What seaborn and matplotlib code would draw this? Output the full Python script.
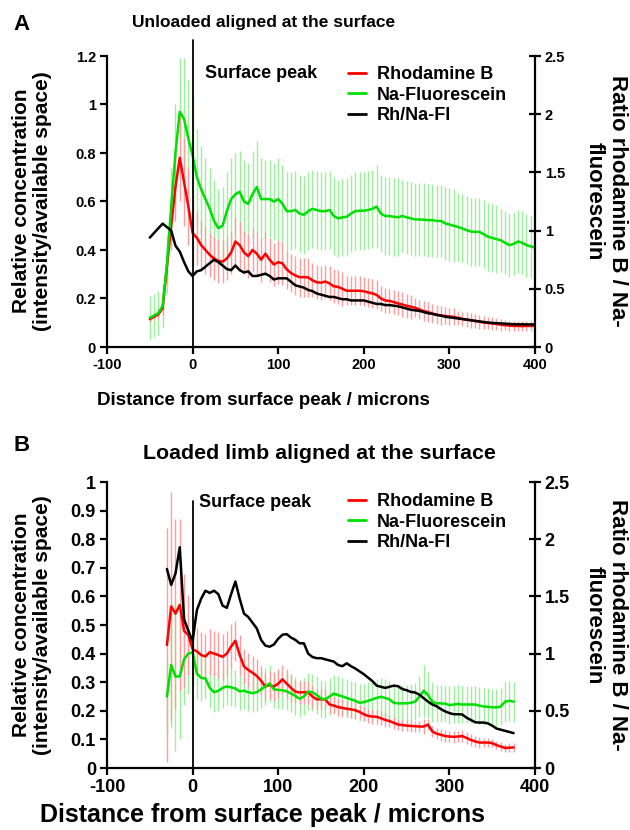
import numpy as np
import pandas as pd
import matplotlib
matplotlib.use("Agg")
import matplotlib.pyplot as plt
import seaborn as sns
from matplotlib.lines import Line2D

# ---------------- data ----------------
# Panel A: distance from surface peak (microns), 5-micron steps
dist_A = np.arange(-50, 401, 5)
green_A = [0.12, 0.13, 0.14, 0.17, 0.34, 0.58, 0.80, 0.97, 0.94, 0.86,
           0.79, 0.70, 0.65, 0.61, 0.57, 0.52, 0.49, 0.50, 0.56, 0.61,
           0.63, 0.64, 0.60, 0.59, 0.63, 0.66, 0.61, 0.61, 0.61, 0.60,
           0.61, 0.59, 0.56, 0.56, 0.565, 0.55, 0.545, 0.56, 0.57, 0.565,
           0.56, 0.56, 0.565, 0.54, 0.53, 0.535, 0.537, 0.55, 0.56, 0.562,
           0.562, 0.565, 0.57, 0.579, 0.55, 0.54, 0.54, 0.537, 0.535, 0.54,
           0.535, 0.53, 0.526, 0.526, 0.525, 0.523, 0.523, 0.52, 0.52, 0.51,
           0.505, 0.50, 0.495, 0.489, 0.482, 0.476, 0.475, 0.475, 0.465, 0.455,
           0.45, 0.445, 0.44, 0.43, 0.42, 0.425, 0.435, 0.43, 0.42, 0.415,
           0.41]
green_err_A = [0.09, 0.09, 0.09, 0.09, 0.12, 0.16, 0.20, 0.22, 0.25, 0.24,
               0.23, 0.20, 0.18, 0.17, 0.17, 0.17, 0.16, 0.16, 0.16, 0.17,
               0.17, 0.17, 0.17, 0.17, 0.18, 0.19, 0.17, 0.16, 0.16, 0.16,
               0.17, 0.16, 0.16, 0.16, 0.16, 0.16, 0.16, 0.16, 0.16, 0.16,
               0.16, 0.16, 0.16, 0.16, 0.16, 0.16, 0.16, 0.16, 0.16, 0.16,
               0.16, 0.16, 0.16, 0.17, 0.16, 0.16, 0.16, 0.16, 0.16, 0.15,
               0.15, 0.15, 0.15, 0.15, 0.15, 0.15, 0.15, 0.15, 0.15, 0.15,
               0.15, 0.15, 0.14, 0.14, 0.14, 0.14, 0.14, 0.14, 0.14, 0.14,
               0.14, 0.14, 0.13, 0.13, 0.13, 0.13, 0.13, 0.13, 0.13, 0.13,
               0.13]
red_A = [0.115, 0.125, 0.135, 0.16, 0.33, 0.50, 0.66, 0.78, 0.68, 0.58,
         0.47, 0.45, 0.42, 0.40, 0.38, 0.365, 0.355, 0.352, 0.365, 0.39,
         0.435, 0.42, 0.39, 0.375, 0.40, 0.385, 0.36, 0.385, 0.36, 0.34,
         0.35, 0.345, 0.32, 0.305, 0.295, 0.288, 0.288, 0.287, 0.275, 0.267,
         0.265, 0.27, 0.262, 0.25, 0.248, 0.24, 0.232, 0.232, 0.232, 0.232,
         0.23, 0.225, 0.221, 0.215, 0.20, 0.192, 0.19, 0.185, 0.18, 0.175,
         0.17, 0.166, 0.162, 0.155, 0.148, 0.144, 0.138, 0.134, 0.13, 0.128,
         0.126, 0.124, 0.12, 0.116, 0.113, 0.11, 0.107, 0.104, 0.101, 0.099,
         0.097, 0.095, 0.092, 0.09, 0.088, 0.087, 0.087, 0.086, 0.087, 0.087,
         0.087]
red_err_A = [0.01, 0.01, 0.02, 0.03, 0.06, 0.10, 0.14, 0.18, 0.18, 0.16,
             0.13, 0.11, 0.10, 0.10, 0.09, 0.09, 0.09, 0.09, 0.09, 0.09,
             0.10, 0.10, 0.09, 0.09, 0.09, 0.09, 0.09, 0.09, 0.09, 0.09,
             0.09, 0.09, 0.08, 0.08, 0.08, 0.08, 0.08, 0.08, 0.07, 0.07,
             0.07, 0.07, 0.07, 0.07, 0.07, 0.07, 0.06, 0.06, 0.06, 0.06,
             0.06, 0.06, 0.06, 0.06, 0.05, 0.05, 0.05, 0.05, 0.05, 0.05,
             0.05, 0.05, 0.04, 0.04, 0.04, 0.04, 0.04, 0.04, 0.04, 0.035,
             0.035, 0.035, 0.03, 0.03, 0.03, 0.03, 0.03, 0.03, 0.025, 0.025,
             0.025, 0.025, 0.025, 0.02, 0.02, 0.02, 0.02, 0.02, 0.02, 0.02,
             0.02]
ratio_A = [0.94, 0.98, 1.02, 1.06, 1.03, 1.00, 0.87, 0.82, 0.73, 0.65,
           0.61, 0.65, 0.66, 0.69, 0.72, 0.75, 0.73, 0.70, 0.67, 0.66,
           0.70, 0.66, 0.64, 0.65, 0.61, 0.61, 0.62, 0.63, 0.61, 0.58,
           0.59, 0.59, 0.59, 0.56, 0.53, 0.52, 0.51, 0.49, 0.48, 0.46,
           0.45, 0.44, 0.43, 0.43, 0.42, 0.41, 0.41, 0.40, 0.40, 0.40,
           0.40, 0.39, 0.38, 0.37, 0.37, 0.36, 0.36, 0.355, 0.35, 0.34,
           0.33, 0.32, 0.315, 0.31, 0.30, 0.29, 0.285, 0.275, 0.27, 0.26,
           0.255, 0.25, 0.245, 0.24, 0.235, 0.23, 0.225, 0.22, 0.215, 0.21,
           0.207, 0.205, 0.203, 0.20, 0.198, 0.196, 0.195, 0.195, 0.194, 0.194,
           0.194]

# Panel B
dist_B = np.arange(-30, 376, 5)
ratio_B = [1.74, 1.60, 1.70, 1.93, 1.30, 1.20, 1.11, 1.38, 1.48, 1.55,
           1.53, 1.55, 1.52, 1.42, 1.40, 1.52, 1.63, 1.48, 1.35, 1.32,
           1.27, 1.22, 1.12, 1.07, 1.06, 1.08, 1.13, 1.165, 1.17, 1.14,
           1.12, 1.09, 1.09, 1.00, 0.97, 0.96, 0.96, 0.95, 0.94, 0.93,
           0.90, 0.89, 0.915, 0.89, 0.87, 0.845, 0.82, 0.79, 0.76, 0.72,
           0.71, 0.70, 0.71, 0.72, 0.715, 0.69, 0.68, 0.665, 0.66, 0.64,
           0.61, 0.58, 0.555, 0.54, 0.515, 0.495, 0.48, 0.47, 0.47, 0.468,
           0.44, 0.42, 0.40, 0.397, 0.397, 0.39, 0.37, 0.345, 0.335, 0.325,
           0.315, 0.305]
red_B = [0.43, 0.565, 0.54, 0.57, 0.48, 0.465, 0.415, 0.408, 0.395, 0.39,
         0.405, 0.40, 0.395, 0.389, 0.40, 0.425, 0.445, 0.395, 0.355, 0.343,
         0.333, 0.322, 0.305, 0.285, 0.29, 0.285, 0.295, 0.31, 0.295, 0.28,
         0.267, 0.264, 0.265, 0.265, 0.25, 0.24, 0.24, 0.24, 0.222, 0.218,
         0.213, 0.21, 0.207, 0.205, 0.202, 0.196, 0.188, 0.182, 0.18, 0.179,
         0.174, 0.168, 0.164, 0.158, 0.152, 0.15, 0.148, 0.147, 0.146, 0.145,
         0.145, 0.152, 0.128, 0.12, 0.116, 0.112, 0.11, 0.109, 0.11, 0.112,
         0.105, 0.098, 0.093, 0.089, 0.089, 0.089, 0.087, 0.08, 0.075, 0.07,
         0.071, 0.072]
red_err_B = [0.41, 0.40, 0.33, 0.30, 0.20, 0.14, 0.10, 0.08, 0.08, 0.08,
             0.08, 0.08, 0.08, 0.08, 0.08, 0.08, 0.07, 0.07, 0.06, 0.06,
             0.06, 0.06, 0.05, 0.05, 0.05, 0.05, 0.05, 0.05, 0.05, 0.05,
             0.04, 0.04, 0.04, 0.04, 0.04, 0.035, 0.035, 0.035, 0.03, 0.03,
             0.03, 0.03, 0.03, 0.03, 0.03, 0.025, 0.025, 0.025, 0.025, 0.025,
             0.025, 0.025, 0.02, 0.02, 0.02, 0.02, 0.02, 0.02, 0.02, 0.02,
             0.025, 0.02, 0.02, 0.02, 0.02, 0.02, 0.02, 0.02, 0.02, 0.02,
             0.02, 0.02, 0.02, 0.02, 0.015, 0.015, 0.015, 0.015, 0.015, 0.015,
             0.015, 0.015]
green_B = [0.25, 0.36, 0.32, 0.32, 0.38, 0.40, 0.405, 0.33, 0.315, 0.313,
           0.28, 0.265, 0.27, 0.28, 0.285, 0.282, 0.278, 0.268, 0.27, 0.265,
           0.262, 0.265, 0.275, 0.285, 0.296, 0.275, 0.273, 0.272, 0.268, 0.261,
           0.252, 0.242, 0.25, 0.267, 0.265, 0.255, 0.243, 0.24, 0.25, 0.26,
           0.255, 0.25, 0.245, 0.24, 0.235, 0.228, 0.23, 0.235, 0.24, 0.245,
           0.249, 0.245, 0.24, 0.228, 0.226, 0.226, 0.226, 0.228, 0.232, 0.25,
           0.27, 0.255, 0.232, 0.226, 0.226, 0.225, 0.22, 0.222, 0.224, 0.222,
           0.222, 0.222, 0.222, 0.218, 0.215, 0.214, 0.212, 0.212, 0.215, 0.232,
           0.235, 0.232]
green_err_B = [0.13, 0.22, 0.26, 0.22, 0.16, 0.14, 0.12, 0.09, 0.08, 0.07,
               0.07, 0.07, 0.07, 0.07, 0.065, 0.065, 0.065, 0.065, 0.065, 0.065,
               0.065, 0.065, 0.065, 0.065, 0.065, 0.065, 0.065, 0.065, 0.065, 0.065,
               0.065, 0.065, 0.065, 0.065, 0.065, 0.065, 0.065, 0.065, 0.065, 0.065,
               0.065, 0.065, 0.065, 0.065, 0.065, 0.065, 0.065, 0.065, 0.065, 0.065,
               0.065, 0.065, 0.065, 0.065, 0.065, 0.065, 0.065, 0.065, 0.065, 0.07,
               0.09, 0.08, 0.07, 0.065, 0.065, 0.065, 0.065, 0.065, 0.065, 0.065,
               0.065, 0.065, 0.065, 0.065, 0.065, 0.065, 0.065, 0.065, 0.065, 0.07,
               0.07, 0.07]

series_names = ["Rhodamine B", "Na-Fluorescein", "Rh/Na-Fl"]
xticks = [-100, 0, 100, 200, 300, 400]
yticks_A = [0, 0.2, 0.4, 0.6, 0.8, 1.0, 1.2]
yticklabels_A = ["0", "0.2", "0.4", "0.6", "0.8", "1", "1.2"]
yticks_B = [0, 0.1, 0.2, 0.3, 0.4, 0.5, 0.6, 0.7, 0.8, 0.9, 1.0]
yticklabels_B = ["0", "0.1", "0.2", "0.3", "0.4", "0.5", "0.6", "0.7", "0.8", "0.9", "1"]
rticks = [0, 0.5, 1.0, 1.5, 2.0, 2.5]
rticklabels = ["0", "0.5", "1", "1.5", "2", "2.5"]

# ---------------- style ----------------
sns.set_style("ticks")
plt.rcParams['font.family'] = ['Liberation Sans', 'DejaVu Sans']
plt.rcParams['font.weight'] = 'bold'
for key in ("text.color", "axes.labelcolor", "xtick.color", "ytick.color", "axes.edgecolor"):
    plt.rcParams[key] = "black"

RED = "#ff0000"
GREEN = "#00e000"
RED_BAR = "#ff9c9c"
GREEN_BAR = "#9cf09c"

fig = plt.figure(figsize=(6.3, 8.3), dpi=100)
W, H = 630.0, 830.0


def px(x0, y0, x1, y1):
    return [x0 / W, 1 - y1 / H, (x1 - x0) / W, (y1 - y0) / H]


def panel(rect, dist, red, red_err, green, green_err, ratio, ylim, yticks, yticklabels,
          tick_fs, line_top, peak_xy):
    ax = fig.add_axes(rect)
    df = pd.DataFrame({"dist": dist, "red": red, "red_err": red_err,
                       "green": green, "green_err": green_err, "ratio": ratio})
    # error bars
    ax.vlines(df["dist"], df["green"] - df["green_err"], df["green"] + df["green_err"],
              colors=GREEN_BAR, lw=1.0, zorder=1)
    ax.vlines(df["dist"], df["red"] - df["red_err"], df["red"] + df["red_err"],
              colors=RED_BAR, lw=1.0, zorder=1)
    sns.lineplot(data=df, x="dist", y="red", ax=ax, color=RED, lw=1.8, zorder=3)
    sns.lineplot(data=df, x="dist", y="green", ax=ax, color=GREEN, lw=1.8, zorder=4)
    ax.set_xlim(-100, 400)
    ax.set_ylim(*ylim)
    ax.set_xticks(xticks)
    ax.set_xticklabels([str(t) for t in xticks])
    ax.set_yticks(yticks)
    ax.set_yticklabels(yticklabels)
    ax.set_xlabel("")
    ax.set_ylabel("")
    ax.axvline(0, ymin=0, ymax=line_top / ylim[1], color="black", lw=1.3, clip_on=False, zorder=5)
    ax.text(peak_xy[0], peak_xy[1], "Surface peak", fontsize=13, fontweight="bold",
            ha="left", va="center", color="black")
    for s in ["top", "right"]:
        ax.spines[s].set_visible(False)
    for s in ["left", "bottom"]:
        ax.spines[s].set_linewidth(1.6)
        ax.spines[s].set_color("black")
    ax.tick_params(axis="both", which="major", width=1.6, length=5, direction="out",
                   labelsize=tick_fs, pad=3, colors="black")
    for lab in ax.get_xticklabels() + ax.get_yticklabels():
        lab.set_fontweight("bold")

    ax2 = ax.twinx()
    sns.lineplot(data=df, x="dist", y="ratio", ax=ax2, color="black", lw=1.8, zorder=5)
    ax2.set_ylim(0, 2.5)
    ax2.set_yticks(rticks)
    ax2.set_yticklabels(rticklabels)
    ax2.set_ylabel("")
    for s in ["top", "left", "bottom"]:
        ax2.spines[s].set_visible(False)
    ax2.spines["right"].set_linewidth(1.6)
    ax2.spines["right"].set_color("black")
    ax2.tick_params(axis="y", width=1.6, length=8, direction="inout", labelsize=tick_fs,
                    pad=3, colors="black")
    for lab in ax2.get_yticklabels():
        lab.set_fontweight("bold")
    return ax, ax2


# Panel A
axA, axA2 = panel(px(107, 56, 535, 347), dist_A, red_A, red_err_A, green_A, green_err_A,
                  ratio_A, (0, 1.2), yticks_A, yticklabels_A, 10.5, 1.266, (14, 1.128))
# Panel B
axB, axB2 = panel(px(107, 482, 535, 768), dist_B, red_B, red_err_B, green_B, green_err_B,
                  ratio_B, (0, 1.0), yticks_B, yticklabels_B, 13, 0.935, (8, 0.93))

handles = [Line2D([], [], color=RED, lw=2), Line2D([], [], color=GREEN, lw=2),
           Line2D([], [], color="black", lw=2)]
for top in (66, 493):
    fig.legend(handles, series_names, loc="upper left",
               bbox_to_anchor=(348 / W, 1 - top / H), frameon=False,
               prop={"size": 13, "weight": "bold"}, handlelength=1.0,
               handletextpad=0.6, labelspacing=0.2, borderpad=0, borderaxespad=0,
               labelcolor="black")

# Titles, panel letters, axis labels
fig.text(264 / W, 1 - 22 / H, "Unloaded aligned at the surface", fontsize=12.5,
         fontweight="bold", ha="center", va="center")
fig.text(319 / W, 1 - 453 / H, "Loaded limb aligned at the surface", fontsize=15.4,
         fontweight="bold", ha="center", va="center")
fig.text(21 / W, 1 - 24 / H, "A", fontsize=16, fontweight="bold", ha="center", va="center")
fig.text(22 / W, 1 - 445 / H, "B", fontsize=16, fontweight="bold", ha="center", va="center")

fig.text(263 / W, 1 - 400 / H, "Distance from surface peak / microns", fontsize=13.5,
         fontweight="bold", ha="center", va="center")
fig.text(262 / W, 1 - 815 / H, "Distance from surface peak / microns", fontsize=18,
         fontweight="bold", ha="center", va="center")

ylab = "Relative concentration\n(intensity/available space)"
rlab = "Ratio rhodamine B / Na-\nfluorescein"
for (cy, fs) in ((201, 15), (625, 15)):
    fig.text(32 / W, 1 - cy / H, ylab, fontsize=fs, fontweight="bold", rotation=90,
             ha="center", va="center", multialignment="center", linespacing=1.15)
    fig.text(606 / W, 1 - cy / H, rlab, fontsize=16, fontweight="bold", rotation=270,
             ha="center", va="center", multialignment="center", linespacing=1.15)

fig.savefig("out.png", dpi=100)
